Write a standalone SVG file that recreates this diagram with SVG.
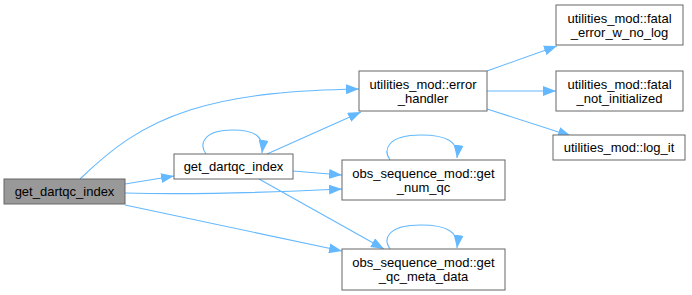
<svg xmlns="http://www.w3.org/2000/svg" width="692" height="295" viewBox="0 0 692 295">
  <style>
    .node rect { fill: #ffffff; stroke: #666666; stroke-width: 1; }
    .node.current rect { fill: #999999; }
    .node text { font-family: "Liberation Sans", Arial, Helvetica, sans-serif; font-size: 13px; fill: #000000; text-anchor: middle; }
    .edge { fill: none; stroke: #63b8ff; stroke-width: 1.1; marker-end: url(#arrow); }
  </style>
  <defs>
    <marker id="arrow" markerUnits="userSpaceOnUse" markerWidth="13" markerHeight="10" refX="13" refY="5" orient="auto" viewBox="0 0 13 10">
      <path d="M0,0 L13,5 L0,10 Z" fill="#63b8ff"/>
    </marker>
  </defs>

  <g id="edges">
    <!-- caller -> error_handler -->
    <path class="edge" d="M80,179 C110,150 140,126 190,110 C240,94 300,90 359,89"/>
    <!-- caller -> get_dartqc_index -->
    <path class="edge" d="M125,184 L174,176"/>
    <!-- caller -> get_num_qc -->
    <path class="edge" d="M125,193 C200,195 280,192 342,189"/>
    <!-- caller -> get_qc_meta_data -->
    <path class="edge" d="M125,205 L342,251"/>
    <!-- get_dartqc_index recursion -->
    <path class="edge" d="M206,154 C199,144 203,130 233,130 C256,130 264,137 262,153"/>
    <!-- get_dartqc_index -> error_handler -->
    <path class="edge" d="M267,154 L361,112"/>
    <!-- get_dartqc_index -> get_num_qc -->
    <path class="edge" d="M293,171 L342,175"/>
    <!-- get_dartqc_index -> get_qc_meta_data -->
    <path class="edge" d="M259,179 L384,249"/>
    <!-- get_num_qc recursion -->
    <path class="edge" d="M390,160 C383,150 387,135 421,135 C447,135 459,142 457,158"/>
    <!-- get_qc_meta_data recursion -->
    <path class="edge" d="M390,249 C383,239 387,225 421,225 C447,225 459,232 457,248"/>
    <!-- error_handler -> callees -->
    <path class="edge" d="M487,71 L557,46"/>
    <path class="edge" d="M487,91 L556,91"/>
    <path class="edge" d="M487,109 L571,136"/>
  </g>

  <g id="node-get_dartqc_index-caller" class="node current">
    <rect x="4" y="179" width="121" height="25"/>
    <text x="64.5" y="196">get_dartqc_index</text>
  </g>
  <g id="node-get_dartqc_index" class="node">
    <rect x="174" y="154" width="119" height="25"/>
    <text x="233.5" y="171">get_dartqc_index</text>
  </g>
  <g id="node-error_handler" class="node">
    <rect x="359" y="71" width="128" height="40"/>
    <text x="423" y="89">utilities_mod::error</text>
    <text x="423" y="103">_handler</text>
  </g>
  <g id="node-get_num_qc" class="node">
    <rect x="342" y="160" width="163" height="40"/>
    <text x="423.5" y="178">obs_sequence_mod::get</text>
    <text x="423.5" y="192">_num_qc</text>
  </g>
  <g id="node-get_qc_meta_data" class="node">
    <rect x="342" y="249" width="163" height="41"/>
    <text x="423.5" y="267">obs_sequence_mod::get</text>
    <text x="423.5" y="281">_qc_meta_data</text>
  </g>
  <g id="node-fatal_error_w_no_log" class="node">
    <rect x="556" y="5" width="127" height="40"/>
    <text x="619.5" y="23">utilities_mod::fatal</text>
    <text x="619.5" y="37">_error_w_no_log</text>
  </g>
  <g id="node-fatal_not_initialized" class="node">
    <rect x="556" y="71" width="127" height="40"/>
    <text x="619.5" y="89">utilities_mod::fatal</text>
    <text x="619.5" y="103">_not_initialized</text>
  </g>
  <g id="node-log_it" class="node">
    <rect x="553" y="135" width="132" height="25"/>
    <text x="619" y="152">utilities_mod::log_it</text>
  </g>
</svg>
